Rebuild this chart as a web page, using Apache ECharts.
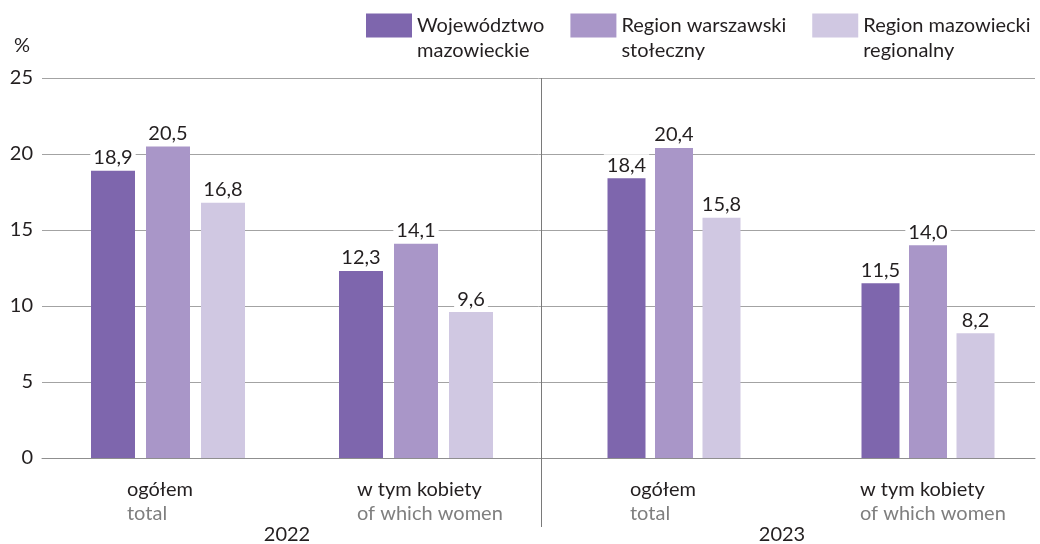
<!DOCTYPE html>
<html>
<head>
<meta charset="utf-8">
<script src="https://cdn.jsdelivr.net/npm/echarts@6/dist/echarts.min.js"></script>
<style>
  html, body { margin: 0; padding: 0; background: #fff; overflow: hidden; }
  #chart { width: 1040px; height: 544px; }
</style>
</head>
<body>
<div id="chart"></div>
<script>
// Categories and labels
const categoriesPl = ['ogółem', 'w tym kobiety'];
const categoriesEn = ['total', 'of which women'];
const years = ['2022', '2023'];
const seriesNames = ['Województwo\nmazowieckie', 'Region warszawski\nstołeczny', 'Region mazowiecki\nregionalny'];
const yTicks = [0, 5, 10, 15, 20, 25];

// Values, %
const wojewodztwo2022 = [18.9, 12.3];
const warszawski2022 = [20.5, 14.1];
const mazowiecki2022 = [16.8, 9.6];
const wojewodztwo2023 = [18.4, 11.5];
const warszawski2023 = [20.4, 14.0];
const mazowiecki2023 = [15.8, 8.2];

const colors = ['#7e66ad', '#a996c8', '#d0c8e2'];
const FONT = 'Lato, "Noto Sans", sans-serif';
const TXT = '#231f20';
const FS = 20;

const fmt = v => v.toFixed(1).replace('.', ',');

const valueLabel = {
  show: true,
  position: 'top',
  distance: 3,
  fontFamily: FONT,
  fontSize: FS,
  color: TXT,
  backgroundColor: '#fff',
  padding: [1, 3, 0, 3],
  formatter: p => fmt(p.value)
};

// Category captions are left-aligned blocks; the box width sets where each block starts
function categoryAxis(gridIndex, boxWidths) {
  const rich = {};
  boxWidths.forEach((w, i) => {
    rich['a' + i] = { width: w, align: 'left', fontFamily: FONT, fontSize: FS, color: TXT, lineHeight: 24 };
    rich['b' + i] = { width: w, align: 'left', fontFamily: FONT, fontSize: FS, color: '#7f7f7f', lineHeight: 24 };
  });
  return {
    type: 'category', gridIndex, data: categoriesPl,
    axisLine: { show: false }, axisTick: { show: false },
    axisLabel: {
      margin: 20,
      interval: 0,
      formatter: (v, i) => `{a${i}|${v}}\n{b${i}|${categoriesEn[i]}}`,
      rich
    }
  };
}
function hiddenY(gridIndex) {
  return { type: 'value', gridIndex, min: 0, max: 25, interval: 5, show: false, splitLine: { show: false } };
}

function makeSeries(data, i, axisIdx, width) {
  return {
    name: seriesNames[i], type: 'bar', data,
    xAxisIndex: axisIdx, yAxisIndex: axisIdx,
    barWidth: width, barGap: '25%',
    itemStyle: { color: colors[i] },
    label: valueLabel,
    z: 3
  };
}

const chart = echarts.init(document.getElementById('chart'));
const option = {
  animation: false,
  color: colors,
  legend: {
    left: 366, top: -12,
    padding: 0,
    itemWidth: 46, itemHeight: 24, itemGap: 26,
    icon: 'rect',
    selectedMode: false,
    data: seriesNames,
    // leading blank line keeps the first text line level with the swatch
    formatter: name => '\n' + name,
    textStyle: { fontFamily: FONT, fontSize: FS, color: TXT, lineHeight: 25 }
  },
  grid: [
    { left: 42, right: 5, top: 78, bottom: 86, outerBoundsMode: 'none' },
    { left: 44, width: 496, top: 78, bottom: 86, outerBoundsMode: 'none' },
    { left: 547, width: 508, top: 78, bottom: 86, outerBoundsMode: 'none' }
  ],
  xAxis: [
    {
      type: 'category', gridIndex: 0, data: [''],
      axisLine: { lineStyle: { color: '#8f8f8f', width: 1 } },
      axisTick: { show: false }, axisLabel: { show: false }
    },
    categoryAxis(1, [82, 118]),
    categoryAxis(2, [88, 136])
  ],
  yAxis: [
    {
      type: 'value', gridIndex: 0, min: yTicks[0], max: yTicks[yTicks.length - 1], interval: 5,
      name: '%', nameLocation: 'end', nameGap: 22,
      nameTextStyle: { fontFamily: FONT, fontSize: FS, color: TXT, align: 'right', padding: [0, 12, 0, 0] },
      axisLine: { show: false }, axisTick: { show: false },
      axisLabel: { fontFamily: FONT, fontSize: FS, color: TXT, margin: 9 },
      splitLine: { lineStyle: { color: '#a3a3a3', width: 1 } }
    },
    hiddenY(1),
    hiddenY(2)
  ],
  series: [
    makeSeries(wojewodztwo2022, 0, 1, 44),
    makeSeries(warszawski2022, 1, 1, 44),
    makeSeries(mazowiecki2022, 2, 1, 44),
    makeSeries(wojewodztwo2023, 0, 2, 38),
    makeSeries(warszawski2023, 1, 2, 38),
    makeSeries(mazowiecki2023, 2, 2, 38)
  ]
};
chart.setOption(option);

// Year divider and year captions
chart.setOption({
  graphic: [
    { type: 'line', shape: { x1: 541.5, y1: 78, x2: 541.5, y2: 527 }, style: { stroke: '#7a7a7a', lineWidth: 1 }, z: 10 },
    { type: 'text', x: 287, y: 535, style: { text: years[0], fontFamily: FONT, fontSize: FS, fill: TXT, align: 'center', verticalAlign: 'middle' } },
    { type: 'text', x: 782, y: 535, style: { text: years[1], fontFamily: FONT, fontSize: FS, fill: TXT, align: 'center', verticalAlign: 'middle' } }
  ]
});
</script>
</body>
</html>
